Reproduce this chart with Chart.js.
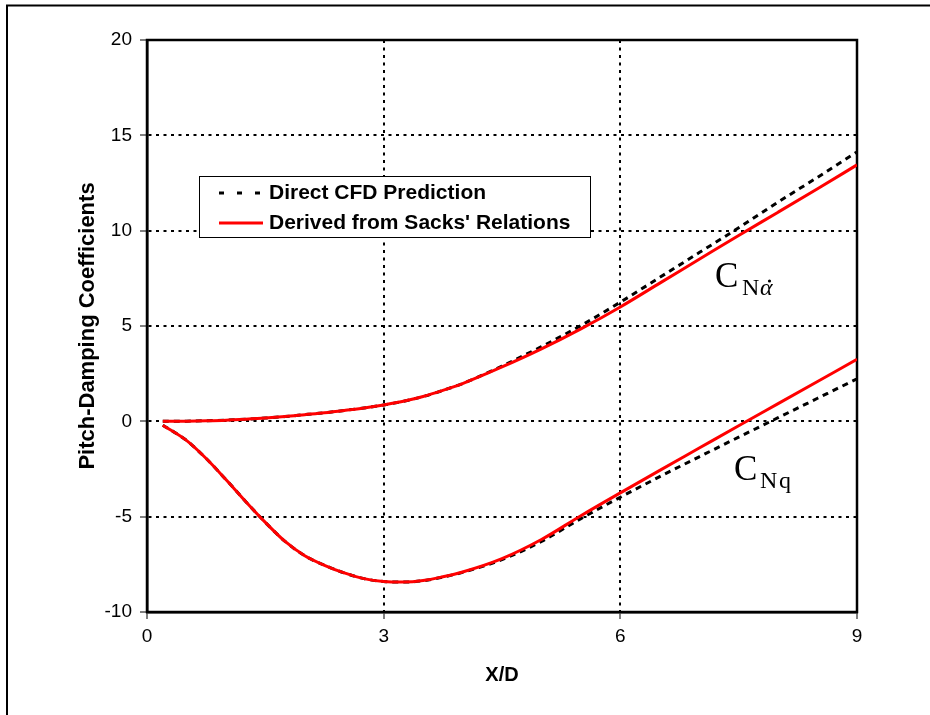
<!DOCTYPE html>
<html>
<head>
<meta charset="utf-8">
<style>
  html, body { margin: 0; padding: 0; background: #fff; }
  #wrap { width: 930px; height: 715px; position: relative; }
</style>
<script src="https://cdn.jsdelivr.net/npm/chart.js@4/dist/chart.umd.min.js"></script>
</head>
<body>
<div id="wrap"><canvas id="c" width="930" height="715"></canvas></div>
<script>
// Axial station X/D along the body
const xOverD = [0.2, 0.5, 0.75, 1.0, 1.25, 1.5, 1.75, 2.0, 2.25, 2.5, 2.75, 3.0, 3.25, 3.5, 3.75, 4.0, 4.5, 5.0, 5.5, 6.0, 6.5, 7.0, 7.5, 8.0, 8.5, 9.0];

// C_N(alpha-dot)
const cnAlphaDotCFD   = [0, 0.01, 0.03, 0.06, 0.11, 0.17, 0.25, 0.35, 0.45, 0.57, 0.70, 0.86, 1.05, 1.30, 1.62, 1.98, 2.90, 3.92, 5.02, 6.25, 7.55, 8.85, 10.15, 11.5, 12.8, 14.13];
const cnAlphaDotSacks = [0, 0.01, 0.03, 0.06, 0.11, 0.17, 0.25, 0.35, 0.45, 0.57, 0.70, 0.86, 1.05, 1.30, 1.62, 1.98, 2.85, 3.80, 4.85, 6.0, 7.25, 8.5, 9.75, 10.97, 12.2, 13.45];

// C_N(q)
const cnqCFD   = [-0.2, -1.0, -1.95, -3.05, -4.2, -5.3, -6.3, -7.05, -7.55, -7.95, -8.25, -8.4, -8.43, -8.36, -8.17, -7.92, -7.25, -6.3, -5.1, -3.98, -2.9, -1.86, -0.83, 0.19, 1.21, 2.23];
const cnqSacks = [-0.2, -1.0, -1.95, -3.05, -4.2, -5.3, -6.3, -7.05, -7.55, -7.95, -8.25, -8.4, -8.43, -8.35, -8.15, -7.9, -7.2, -6.2, -4.95, -3.75, -2.57, -1.4, -0.23, 0.93, 2.09, 3.25];

const xTicks = [0, 3, 6, 9];
const yTicks = [-10, -5, 0, 5, 10, 15, 20];

const legendLabels = ['Direct CFD Prediction', "Derived from Sacks' Relations"];
const xTitle = 'X/D';
const yTitle = 'Pitch-Damping Coefficients';

const pts = ys => xOverD.map((x, i) => ({ x: x, y: ys[i] }));

const RED = '#ff0000';
const DASH = [6, 5];

function dashedSet(ys) {
  return { data: pts(ys), borderColor: '#000', borderWidth: 3, borderDash: DASH,
           pointRadius: 0, fill: false, cubicInterpolationMode: 'monotone', order: 2 };
}
function solidSet(ys) {
  return { data: pts(ys), borderColor: RED, borderWidth: 3,
           pointRadius: 0, fill: false, cubicInterpolationMode: 'monotone', order: 1 };
}

// Frame around the whole figure, solid plot box, legend and curve labels
const decor = {
  id: 'decor',
  beforeDraw(chart) {
    const ctx = chart.ctx;
    ctx.save();
    ctx.strokeStyle = '#000';
    ctx.lineWidth = 2;
    ctx.beginPath();
    ctx.moveTo(7, 715);
    ctx.lineTo(7, 5.5);
    ctx.lineTo(930, 5.5);
    ctx.stroke();
    ctx.restore();
  },
  beforeDatasetsDraw(chart) {
    const { ctx, chartArea: a } = chart;
    ctx.save();
    ctx.strokeStyle = '#000';
    ctx.lineWidth = 2.5;
    ctx.setLineDash([]);
    ctx.strokeRect(a.left, a.top, a.right - a.left, a.bottom - a.top);
    ctx.restore();
  },
  afterDraw(chart) {
    const ctx = chart.ctx;
    ctx.save();
    // legend box
    ctx.fillStyle = '#fff';
    ctx.fillRect(199.5, 176.5, 391, 61);
    ctx.strokeStyle = '#000';
    ctx.lineWidth = 1;
    ctx.strokeRect(199.5, 176.5, 391, 61);

    ctx.lineWidth = 3;
    ctx.strokeStyle = '#000';
    ctx.setLineDash([5, 13]);
    ctx.beginPath(); ctx.moveTo(219, 193); ctx.lineTo(263, 193); ctx.stroke();
    ctx.setLineDash([]);
    ctx.strokeStyle = RED;
    ctx.beginPath(); ctx.moveTo(219, 223); ctx.lineTo(263, 223); ctx.stroke();

    ctx.fillStyle = '#000';
    ctx.font = 'bold 21px "Liberation Sans", Arial, sans-serif';
    ctx.textBaseline = 'middle';
    ctx.textAlign = 'left';
    ctx.fillText(legendLabels[0], 269, 193);
    ctx.fillText(legendLabels[1], 269, 223);

    // curve labels
    ctx.textBaseline = 'alphabetic';
    const serif = '"Liberation Serif", "Times New Roman", serif';
    ctx.font = '35px ' + serif;
    ctx.fillText('C', 715, 287);
    ctx.font = '24px ' + serif;
    ctx.fillText('N', 742, 295);
    ctx.font = 'italic 24px ' + serif;
    ctx.fillText('\u03B1', 760, 295);
    ctx.beginPath();
    ctx.arc(769.5, 281, 1.6, 0, Math.PI * 2);
    ctx.fill();

    ctx.font = '35px ' + serif;
    ctx.fillText('C', 734, 480);
    ctx.font = '24px ' + serif;
    ctx.fillText('N', 760, 488);
    ctx.fillText('q', 779, 488);
    ctx.restore();
  }
};

new Chart(document.getElementById('c'), {
  type: 'line',
  data: {
    datasets: [
      solidSet(cnAlphaDotSacks),
      solidSet(cnqSacks),
      dashedSet(cnAlphaDotCFD),
      dashedSet(cnqCFD)
    ]
  },
  plugins: [decor],
  options: {
    responsive: false,
    animation: false,
    layout: { padding: { left: 70, right: 73, top: 40, bottom: 23 } },
    plugins: { legend: { display: false }, tooltip: { enabled: false } },
    scales: {
      x: {
        type: 'linear', min: 0, max: 9,
        afterFit: s => { s.height = 80; },
        afterBuildTicks: s => { s.ticks = xTicks.map(v => ({ value: v })); },
        ticks: { color: '#000', padding: 6, font: { size: 19, family: '"Liberation Sans", Arial, sans-serif' } },
        grid: { color: '#000', lineWidth: 2, tickLength: 7, tickColor: '#000', tickWidth: 1 },
        border: { display: true, color: '#000', width: 2.5, dash: [3, 4.5] },
        title: { display: true, text: xTitle, color: '#000', padding: { top: 0, bottom: 5 },
                 font: { size: 20, weight: 'bold', family: '"Liberation Sans", Arial, sans-serif' } }
      },
      y: {
        type: 'linear', min: -10, max: 20,
        afterFit: s => { s.width = 77; },
        afterBuildTicks: s => { s.ticks = yTicks.map(v => ({ value: v })); },
        ticks: { color: '#000', padding: 8, font: { size: 19, family: '"Liberation Sans", Arial, sans-serif' } },
        grid: { color: '#000', lineWidth: 2, tickLength: 7, tickColor: '#000', tickWidth: 1 },
        border: { display: true, color: '#000', width: 2.5, dash: [3, 4.5] },
        title: { display: true, text: yTitle, color: '#000', padding: { top: 5, bottom: 0 },
                 font: { size: 22, weight: 'bold', family: '"Liberation Sans", Arial, sans-serif' } }
      }
    }
  }
});
</script>
</body>
</html>
